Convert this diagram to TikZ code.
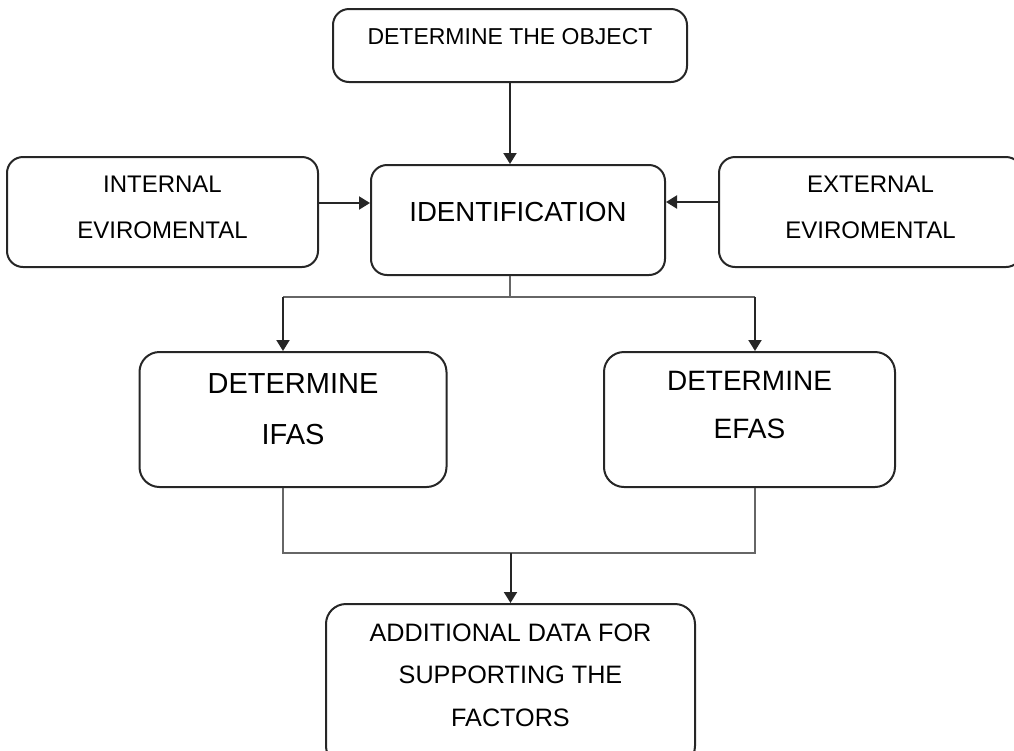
\documentclass[tikz,border=0pt]{standalone}
\usepackage{fontspec}
\setmainfont{Liberation Sans}
\usepackage{tikz}
\usetikzlibrary{arrows.meta, positioning}

\begin{document}
\begin{tikzpicture}[
    line width=1pt,
    box/.style={rectangle, draw=black!85, rounded corners=8pt, align=center, inner sep=2pt},
    arrow/.style={-{Triangle[length=5.5pt, width=6.5pt]}, draw=black!85},
    line/.style={draw=black!60},
  ]

  \useasboundingbox (0,0) rectangle (507pt,-375.5pt);

  \node[box, minimum width=177pt, minimum height=36.5pt, text height=8.2pt, text depth=9pt,
        font=\fontsize{11.5pt}{14pt}\selectfont] (object) at (255pt,-22.75pt) {DETERMINE THE OBJECT};
  \node[box, minimum width=147pt, minimum height=55pt, text height=9.9pt, text depth=8pt,
        font=\fontsize{13.8pt}{16pt}\selectfont,
        below=40.5pt of object, xshift=4pt] (ident) {IDENTIFICATION};
  \node[box, minimum width=155.5pt, minimum height=55pt, text depth=4.5pt,
        font=\fontsize{12pt}{23pt}\selectfont,
        left=25.5pt of ident, yshift=4pt] (internal) {INTERNAL\\EVIROMENTAL};
  \node[box, minimum width=151.5pt, minimum height=55pt, text depth=4.5pt,
        font=\fontsize{12pt}{23pt}\selectfont,
        right=26pt of ident, yshift=4pt] (external) {EXTERNAL\\EVIROMENTAL};

  \node[box, rounded corners=10pt, minimum width=153.5pt, minimum height=67.5pt, text depth=10pt,
        font=\fontsize{14.5pt}{25.5pt}\selectfont,
        below=37.5pt of ident, xshift=-112.5pt] (ifas) {DETERMINE\\IFAS};
  \node[box, rounded corners=10pt, minimum width=145.5pt, minimum height=67.5pt, text depth=15pt,
        font=\fontsize{14pt}{24pt}\selectfont,
        below=37.5pt of ident, xshift=115.75pt] (efas) {DETERMINE\\EFAS};

  \node[box, rounded corners=10pt, minimum width=184.5pt, minimum height=81pt, text depth=10pt,
        font=\fontsize{12.6pt}{21.25pt}\selectfont,
        below=57.5pt of ifas, xshift=108.75pt] (additional) {ADDITIONAL DATA FOR\\SUPPORTING THE\\FACTORS};

  % arrows into identification
  \draw[arrow] (object.south) -- (object.south |- ident.north);
  \coordinate (inarr) at ([yshift=4.5pt]internal.east);
  \coordinate (exarr) at ([yshift=5pt]external.west);
  \draw[arrow] (inarr) -- (inarr -| ident.west);
  \draw[arrow] (exarr) -- (exarr -| ident.east);

  % split to IFAS / EFAS
  \draw[line] (object.south |- ident.south) -- ++(0,-10.5pt) coordinate (split);
  \draw[line] ([xshift=-5pt]ifas.north |- split) -- ([xshift=2.75pt]efas.north |- split);
  \draw[arrow] ([xshift=-5pt]ifas.north |- split) -- ([xshift=-5pt]ifas.north);
  \draw[arrow] ([xshift=2.75pt]efas.north |- split) -- ([xshift=2.75pt]efas.north);

  % merge to additional data
  \draw[line] ([xshift=-5pt]ifas.south) -- ++(0,-32.5pt) coordinate (merge) -| ([xshift=2.75pt]efas.south);
  \draw[arrow] (merge -| additional.north) -- (additional.north);

\end{tikzpicture}
\end{document}
